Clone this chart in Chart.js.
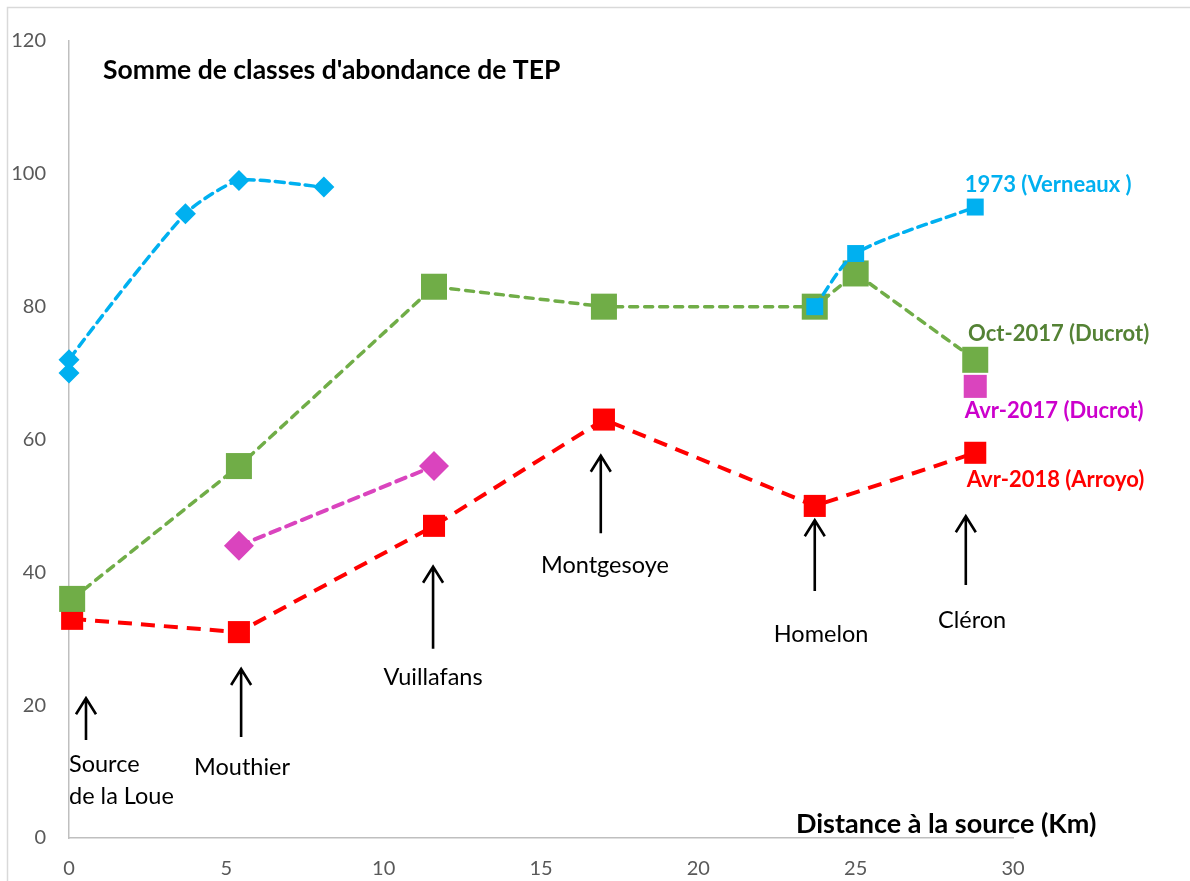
<!DOCTYPE html>
<html>
<head>
<meta charset="utf-8">
<script src="https://cdn.jsdelivr.net/npm/chart.js@4/dist/chart.umd.min.js"></script>
<style>
  html, body { margin: 0; background: #fff; }
</style>
</head>
<body>
<canvas id="chart" width="1190" height="881"></canvas>
<script>
// distance à la source (km) / somme des classes d'abondance
const km1973Amont = [0, 0, 3.7, 5.4, 8.1];
const val1973Amont = [70, 72, 94, 99, 98];
const km1973Aval = [23.7, 25, 28.8];
const val1973Aval = [80, 88, 95];
const kmOct2017 = [0.1, 5.4, 11.6, 17, 23.7, 25, 28.8];
const valOct2017 = [36, 56, 83, 80, 80, 85, 72];
const kmAvr2017 = [5.4, 11.6];
const valAvr2017 = [44, 56];
const kmAvr2017Cleron = [28.8];
const valAvr2017Cleron = [68];
const kmAvr2018 = [0.1, 5.4, 11.6, 17, 23.7, 28.8];
const valAvr2018 = [33, 31, 47, 63, 50, 58];

const xTicks = [0, 5, 10, 15, 20, 25, 30];
const yTicks = [0, 20, 40, 60, 80, 100, 120];

// stations le long de la Loue
const siteNames = ["Source\nde la Loue", "Mouthier", "Vuillafans", "Montgesoye", "Homelon", "Cléron"];
const siteLabelKm = [0, 5.5, 11.57, 17.03, 23.9, 28.7];
const siteLabelValue = [11.1, 10.7, 24.2, 41.1, 30.7, 32.8];
const arrowKm = [0.54, 5.47, 11.57, 16.9, 23.7, 28.5];
const arrowBase = [14.75, 15.2, 28.5, 45.9, 37.2, 38.1];
const arrowTip = [21.2, 25.6, 41.0, 57.7, 48.0, 48.6];

const seriesNames = ["1973 (Verneaux )", "Oct-2017 (Ducrot)", "Avr-2017 (Ducrot)", "Avr-2018 (Arroyo)"];
const seriesNameKm = [28.47, 28.57, 28.47, 28.53];
const seriesNameValue = [98.3, 75.9, 64.3, 53.9];
const seriesNameColors = ["#00B0F0", "#548235", "#CC00CC", "#FF0000"];

const BLUE = "#00B0F0";
const GREEN = "#70AD47";
const MAGENTA = "#DA44BE";
const RED = "#FF0000";
const FONT = "Lato, 'Open Sans', sans-serif";

const points = (xs, ys) => xs.map((x, i) => ({ x, y: ys[i] }));

function series(label, xs, ys, opts) {
  return {
    label,
    data: points(xs, ys),
    showLine: true,
    fill: false,
    tension: 0,
    clip: false,
    pointBorderWidth: 0,
    borderCapStyle: "round",
    ...opts,
  };
}

const annotations = {
  id: "annotations",
  beforeDraw(chart) {
    const { ctx } = chart;
    ctx.save();
    ctx.strokeStyle = "#D9D9D9";
    ctx.lineWidth = 1.5;
    ctx.strokeRect(7.5, 7.5, 1200, 900);
    ctx.restore();
  },
  afterDatasetsDraw(chart) {
    const { ctx, scales: { x, y } } = chart;
    ctx.save();

    ctx.strokeStyle = "#000";
    ctx.fillStyle = "#000";
    ctx.lineWidth = 2.6;
    ctx.lineCap = "butt";
    arrowKm.forEach((km, i) => {
      const px = x.getPixelForValue(km);
      const y0 = y.getPixelForValue(arrowBase[i]);
      const y1 = y.getPixelForValue(arrowTip[i]);
      ctx.beginPath();
      ctx.moveTo(px, y0);
      ctx.lineTo(px, y1 + 1);
      ctx.moveTo(px - 10, y1 + 17);
      ctx.lineTo(px, y1 + 1);
      ctx.lineTo(px + 10, y1 + 17);
      ctx.stroke();
    });

    ctx.font = `23.5px ${FONT}`;
    ctx.textBaseline = "middle";
    siteNames.forEach((name, i) => {
      const lines = name.split("\n");
      const px = x.getPixelForValue(siteLabelKm[i]);
      const py = y.getPixelForValue(siteLabelValue[i]);
      ctx.textAlign = lines.length > 1 ? "left" : "center";
      lines.forEach((line, j) => ctx.fillText(line, px, py + j * 32));
    });

    ctx.font = `bold 22px ${FONT}`;
    ctx.textAlign = "left";
    seriesNames.forEach((name, i) => {
      ctx.fillStyle = seriesNameColors[i];
      ctx.fillText(name, x.getPixelForValue(seriesNameKm[i]), y.getPixelForValue(seriesNameValue[i]));
    });

    ctx.fillStyle = "#000";
    ctx.font = `bold 26.5px ${FONT}`;
    ctx.fillText("Somme de classes d'abondance de TEP", x.getPixelForValue(1.08), y.getPixelForValue(115.6));
    ctx.font = `bold 27px ${FONT}`;
    ctx.fillText("Distance à la source (Km)", x.getPixelForValue(23.1), y.getPixelForValue(2.1));

    ctx.restore();
  },
};

new Chart(document.getElementById("chart"), {
  type: "scatter",
  data: {
    datasets: [
      series("1973 (Verneaux )", km1973Amont, val1973Amont, {
        borderColor: BLUE, backgroundColor: BLUE, borderWidth: 3.5, borderDash: [9, 6],
        pointStyle: "rectRot", pointRadius: 10.5, tension: 0.2,
      }),
      series("1973 (Verneaux ) aval", km1973Aval, val1973Aval, {
        borderColor: BLUE, backgroundColor: BLUE, borderWidth: 3.5, borderDash: [9, 6],
        pointStyle: "rect", pointRadius: 12, tension: 0.25,
      }),
      series("Oct-2017 (Ducrot)", kmOct2017, valOct2017, {
        borderColor: GREEN, backgroundColor: GREEN, borderWidth: 3.5, borderDash: [8, 7],
        pointStyle: "rect", pointRadius: 18.4,
      }),
      series("Avr-2017 (Ducrot)", kmAvr2017, valAvr2017, {
        borderColor: MAGENTA, backgroundColor: MAGENTA, borderWidth: 4, borderDash: [10, 7],
        pointStyle: "rectRot", pointRadius: 15,
      }),
      series("Avr-2017 (Ducrot) Cléron", kmAvr2017Cleron, valAvr2017Cleron, {
        borderColor: MAGENTA, backgroundColor: MAGENTA, borderWidth: 0,
        pointStyle: "rect", pointRadius: 16.3,
      }),
      series("Avr-2018 (Arroyo)", kmAvr2018, valAvr2018, {
        borderColor: RED, backgroundColor: RED, borderWidth: 4, borderDash: [14, 9],
        borderCapStyle: "butt", pointStyle: "rect", pointRadius: 15.6,
      }),
    ],
  },
  options: {
    responsive: false,
    animation: false,
    layout: { padding: { left: 0, right: 177, top: 41, bottom: 0 } },
    plugins: { legend: { display: false }, tooltip: { enabled: false } },
    scales: {
      x: {
        type: "linear",
        min: 0,
        max: 30,
        afterBuildTicks: (s) => { s.ticks = xTicks.map((v) => ({ value: v })); },
        afterFit: (s) => { s.height = 43; },
        grid: { display: false, drawTicks: false },
        border: { display: true, color: "#BFBFBF", width: 1.5 },
        ticks: { color: "#595959", font: { family: FONT, size: 20 }, padding: 19, maxRotation: 0 },
      },
      y: {
        min: 0,
        max: 120,
        afterBuildTicks: (s) => { s.ticks = yTicks.map((v) => ({ value: v })); },
        afterFit: (s) => { s.width = 69; },
        grid: { display: false, drawTicks: false },
        border: { display: true, color: "#BFBFBF", width: 1.5 },
        ticks: { color: "#595959", font: { family: FONT, size: 20 }, padding: 23 },
      },
    },
  },
  plugins: [annotations],
});
</script>
</body>
</html>
